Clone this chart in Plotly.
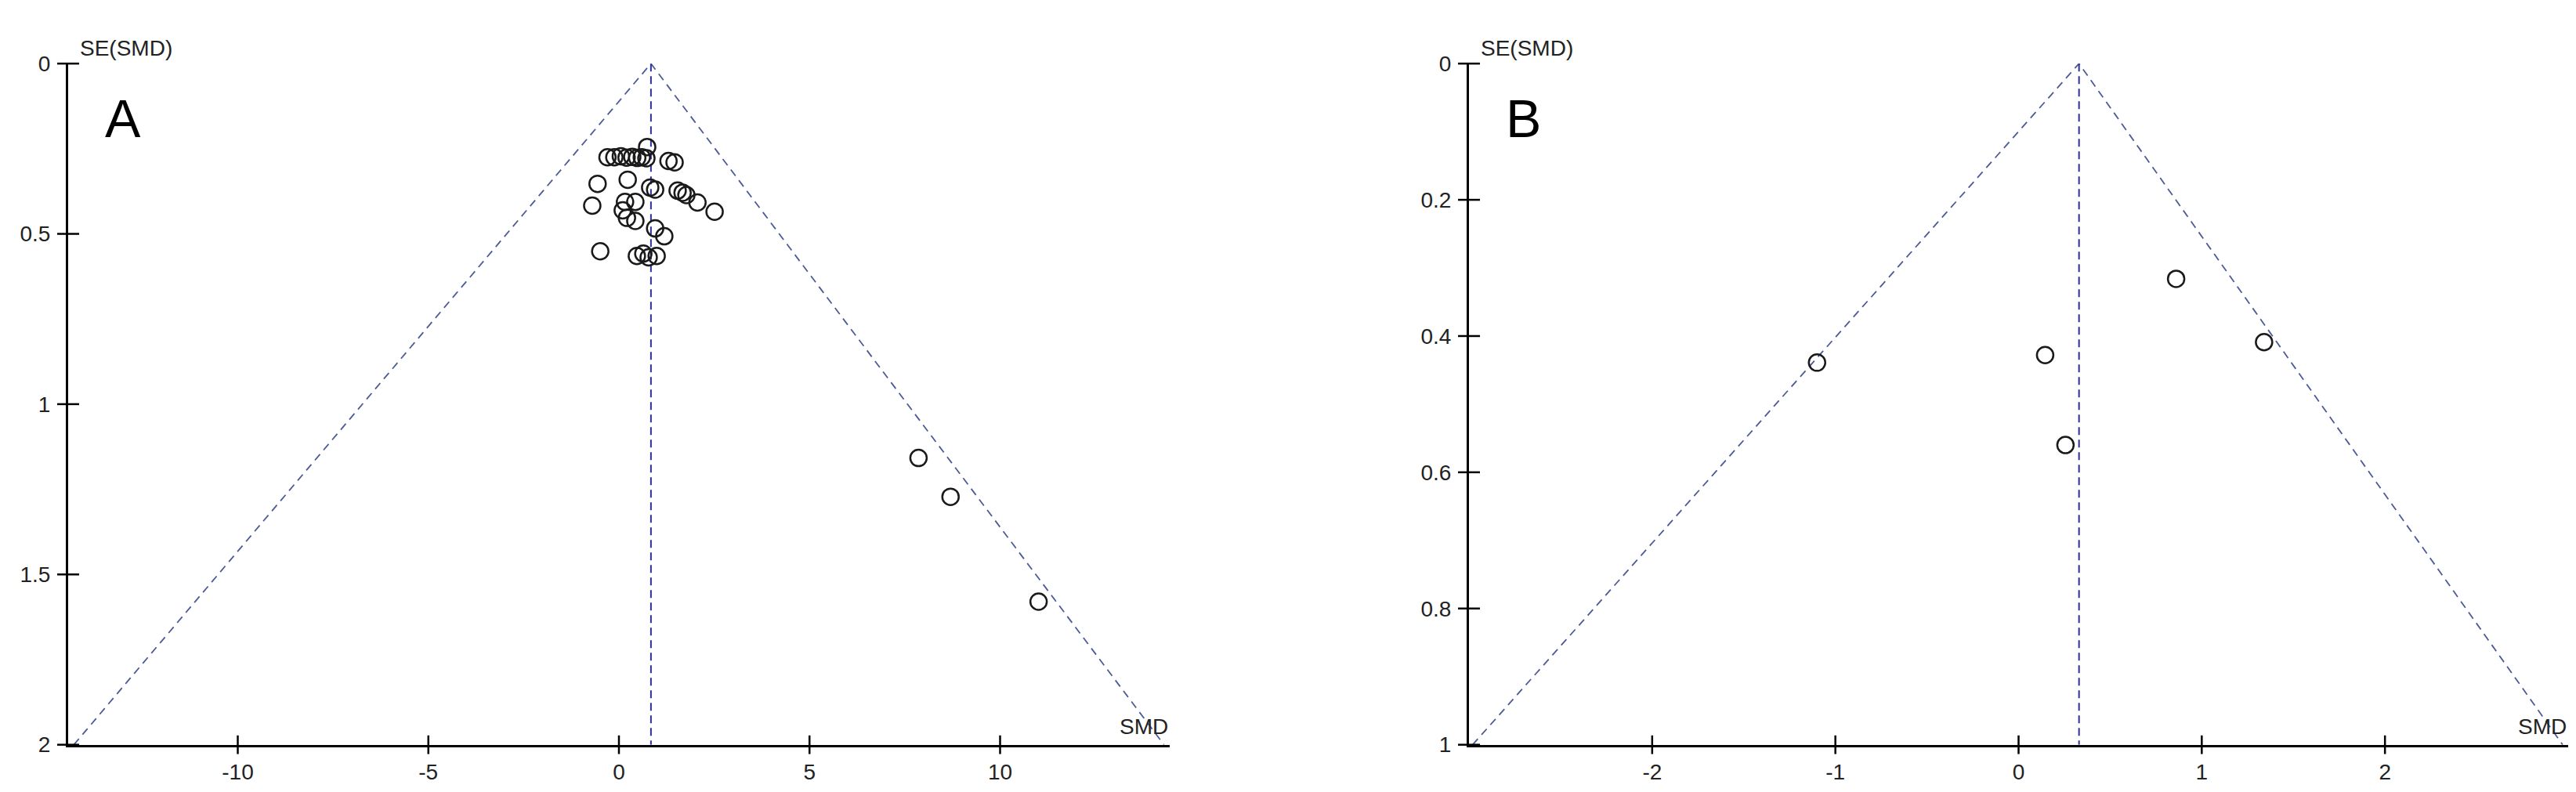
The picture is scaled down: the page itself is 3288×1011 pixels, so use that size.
import plotly.graph_objects as go

# ---- panel A data (SMD, SE) ----
a_smd = [-0.30, -0.12, 0.05, 0.20, 0.35, 0.48, 0.60, 0.72,
         0.74, 1.30, 1.46,
         -0.56, 0.23, 0.82, 0.95,
         1.54, 1.67, 1.77, 2.06, 2.51,
         -0.70, 0.16, 0.43, 0.21, 0.43, 0.10,
         0.95, 1.19,
         -0.49, 0.47, 0.64, 0.78, 0.99,
         7.86, 8.70, 11.01]
a_se = [0.275, 0.275, 0.272, 0.276, 0.274, 0.277, 0.275, 0.278,
        0.245, 0.286, 0.290,
        0.353, 0.341, 0.364, 0.370,
        0.373, 0.379, 0.386, 0.408, 0.435,
        0.417, 0.406, 0.406, 0.453, 0.462, 0.431,
        0.484, 0.507,
        0.551, 0.565, 0.558, 0.569, 0.565,
        1.158, 1.272, 1.580]
a_pooled = 0.84
a_funnel_smd = [-14.3, 0.84, 14.3]
a_funnel_se = [2.0, 0.0, 2.0]
a_xticks = [-10, -5, 0, 5, 10]
a_xticktext = ["-10", "-5", "0", "5", "10"]
a_yticks = [0, 0.5, 1, 1.5, 2]
a_yticktext = ["0", "0.5", "1", "1.5", "2"]
a_xrange = [-14.45, 14.45]
a_semax = 2.0

# ---- panel B data ----
b_smd = [-1.10, 0.145, 0.256, 0.86, 1.34]
b_se = [0.439, 0.428, 0.560, 0.316, 0.409]
b_pooled = 0.33
b_funnel_smd = [-2.98, 0.33, 2.97]
b_funnel_se = [1.0, 0.0, 1.0]
b_xticks = [-2, -1, 0, 1, 2]
b_xticktext = ["-2", "-1", "0", "1", "2"]
b_yticks = [0, 0.2, 0.4, 0.6, 0.8, 1]
b_yticktext = ["0", "0.2", "0.4", "0.6", "0.8", "1"]
b_xrange = [-3.0, 3.0]
b_semax = 1.0

FONT = "Liberation Sans, Arial, sans-serif"
W, H = 3288, 1011

fig = go.Figure()


def add_panel(fig, xa, ya, smd, se, pooled, fsmd, fse, xticks, yticks, xrange, semax):
    # funnel
    fig.add_trace(go.Scatter(x=fsmd, y=fse, mode="lines", xaxis=xa, yaxis=ya,
                             line=dict(color="#4d5a96", width=1.8, dash="10px,7px"),
                             hoverinfo="skip", showlegend=False))
    # pooled estimate
    fig.add_trace(go.Scatter(x=[pooled, pooled], y=[0, semax], mode="lines", xaxis=xa, yaxis=ya,
                             line=dict(color="#2e2e9e", width=2, dash="10px,6px"),
                             hoverinfo="skip", showlegend=False))
    # studies
    fig.add_trace(go.Scatter(x=smd, y=se, mode="markers", xaxis=xa, yaxis=ya,
                             marker=dict(symbol="circle-open", size=21, color="#1a1a1a",
                                         line=dict(width=2.5, color="#1a1a1a")),
                             showlegend=False, cliponaxis=False))
    # crossing tick marks
    fig.add_trace(go.Scatter(x=xticks, y=[semax] * len(xticks), mode="markers", xaxis=xa, yaxis=ya,
                             marker=dict(symbol="line-ns", size=17,
                                         line=dict(width=2.5, color="black")),
                             hoverinfo="skip", showlegend=False, cliponaxis=False))
    fig.add_trace(go.Scatter(x=[xrange[0]] * len(yticks), y=yticks, mode="markers", xaxis=xa, yaxis=ya,
                             marker=dict(symbol="line-ew", size=20,
                                         line=dict(width=2.5, color="black")),
                             hoverinfo="skip", showlegend=False, cliponaxis=False))


add_panel(fig, "x", "y", a_smd, a_se, a_pooled, a_funnel_smd, a_funnel_se,
          a_xticks, a_yticks, a_xrange, a_semax)
add_panel(fig, "x2", "y2", b_smd, b_se, b_pooled, b_funnel_smd, b_funnel_se,
          b_xticks, b_yticks, b_xrange, b_semax)

ytop = 1 - 60 / H
ybot = 1 - 957 / H

common_x = dict(showgrid=False, zeroline=False, showline=True, linecolor="black", linewidth=3,
                ticks="", ticklabelstandoff=8, tickfont=dict(family=FONT, size=28, color="#222"))
common_y = dict(showgrid=False, zeroline=False, showline=True, linecolor="black", linewidth=3,
                ticks="", ticklabelstandoff=14, tickfont=dict(family=FONT, size=28, color="#222"))

fig.update_layout(
    width=W, height=H,
    margin=dict(l=0, r=0, t=0, b=0),
    paper_bgcolor="white", plot_bgcolor="white",
    xaxis=dict(domain=[79 / W, 1485 / W], range=a_xrange, tickvals=a_xticks, ticktext=a_xticktext,
               anchor="y", **common_x),
    yaxis=dict(domain=[ybot, ytop], range=[a_semax, 0], tickvals=a_yticks, ticktext=a_yticktext,
               anchor="x", **common_y),
    xaxis2=dict(domain=[1867 / W, 3270 / W], range=b_xrange, tickvals=b_xticks, ticktext=b_xticktext,
                anchor="y2", **common_x),
    yaxis2=dict(domain=[ybot, ytop], range=[b_semax, 0], tickvals=b_yticks, ticktext=b_yticktext,
                anchor="x2", **common_y),
)

for xa, ya, letter in [("x", "y", "A"), ("x2", "y2", "B")]:
    fig.add_annotation(text="SE(SMD)", xref=f"{xa} domain", yref=f"{ya} domain", x=0, y=1,
                       xanchor="left", yanchor="bottom", xshift=13, yshift=2, showarrow=False,
                       font=dict(family=FONT, size=28, color="#222"))
    fig.add_annotation(text="SMD", xref=f"{xa} domain", yref=f"{ya} domain", x=1, y=0,
                       xanchor="right", yanchor="bottom", yshift=6, showarrow=False,
                       font=dict(family=FONT, size=28, color="#222"))
    fig.add_annotation(text=letter, xref=f"{xa} domain", yref=f"{ya} domain", x=0, y=1,
                       xanchor="left", yanchor="middle", xshift=45, yshift=-70, showarrow=False,
                       font=dict(family=FONT, size=68, color="black"))

fig.write_html("out.html")
